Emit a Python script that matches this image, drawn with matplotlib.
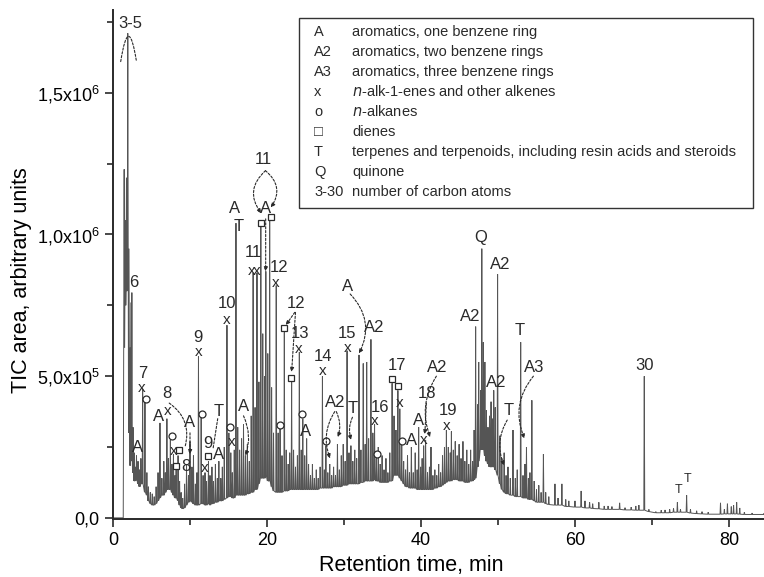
import numpy as np
import matplotlib
matplotlib.use('Agg')
import matplotlib.pyplot as plt
from matplotlib.patches import Rectangle

plt.rcParams['font.family'] = ['Liberation Sans', 'DejaVu Sans']
plt.rcParams['mathtext.fontset'] = 'custom'
plt.rcParams['mathtext.rm'] = 'Liberation Sans'

# chromatogram spikes: (time min, apex, local base), signal in 1e5 units
peaks_0_5 = [(1.45, 12.3, 6.0), (1.60, 10.5, 7.5), (1.75, 12.0, 8.0), (1.92, 17.1, 9.0),
             (2.08, 9.5, 3.0), (2.22, 6.0, 1.85), (2.32, 7.6, 2.0), (2.45, 7.95, 2.0),
             (2.6, 3.2, 1.6), (2.75, 2.3, 1.3), (2.9, 1.8, 1.3), (3.05, 2.2, 1.4),
             (3.25, 2.0, 1.2), (3.45, 1.7, 1.1), (3.62, 2.1, 1.2), (3.85, 4.55, 1.2),
             (4.15, 4.1, 0.9), (4.4, 1.6, 0.8), (4.6, 1.1, 0.6), (4.85, 0.9, 0.5),
             (5.1, 0.85, 0.45), (5.35, 0.75, 0.45)]
peaks_5_12 = [(5.6, 1.1, 0.5), (5.85, 1.6, 0.6), (6.1, 3.35, 0.7), (6.35, 1.4, 0.8),
              (6.6, 2.0, 0.8), (6.8, 1.6, 0.9), (7.0, 3.5, 1.0), (7.2, 2.1, 1.0),
              (7.45, 2.75, 1.0), (7.65, 1.9, 0.9), (7.85, 2.25, 0.8), (8.05, 1.5, 0.7),
              (8.2, 1.9, 0.7), (8.45, 2.2, 0.6), (8.65, 1.3, 0.45), (8.85, 0.9, 0.35),
              (9.05, 0.7, 0.32), (9.3, 1.2, 0.35), (9.55, 1.85, 0.45), (9.8, 1.5, 0.55),
              (10.0, 2.7, 0.6), (10.25, 1.8, 0.55), (10.45, 2.2, 0.5), (10.7, 1.2, 0.45),
              (10.9, 1.6, 0.45), (11.1, 5.7, 0.45), (11.45, 3.55, 0.5), (11.7, 1.5, 0.5),
              (11.95, 1.6, 0.45)]
peaks_12_17 = [(12.15, 1.3, 0.45), (12.4, 2.0, 0.5), (12.6, 1.5, 0.45), (12.85, 1.8, 0.5),
               (13.05, 1.3, 0.5), (13.3, 1.9, 0.55), (13.55, 1.4, 0.55), (13.75, 2.0, 0.6),
               (14.0, 1.4, 0.6), (14.2, 1.8, 0.6), (14.45, 2.5, 0.65), (14.8, 6.8, 0.7),
               (15.05, 3.0, 0.75), (15.3, 2.3, 0.75), (15.5, 1.6, 0.7), (15.75, 2.4, 0.7),
               (15.97, 10.4, 0.8), (16.2, 3.2, 0.8), (16.45, 2.4, 0.8), (16.7, 2.8, 0.8),
               (16.95, 3.3, 0.8), (17.2, 2.2, 0.8)]
peaks_17_25 = [(17.45, 2.6, 0.85), (17.7, 2.0, 0.85), (17.95, 3.6, 0.9), (18.2, 8.65, 0.9),
               (18.45, 3.9, 1.0), (18.7, 8.65, 1.0), (18.95, 4.8, 1.2), (19.2, 10.3, 1.4),
               (19.45, 6.5, 1.4), (19.7, 5.0, 1.4), (19.85, 8.7, 1.5), (20.1, 5.8, 1.3),
               (20.35, 10.6, 1.3), (20.6, 4.6, 1.1), (20.85, 3.0, 0.95), (21.2, 8.2, 0.9),
               (21.45, 3.0, 0.9), (21.7, 3.15, 0.9), (21.95, 2.2, 0.9), (22.25, 6.55, 0.95),
               (22.5, 2.4, 0.95), (22.75, 1.9, 0.95), (22.95, 2.3, 1.0), (23.2, 4.8, 1.0),
               (23.45, 2.4, 1.0), (23.7, 1.8, 1.0), (23.95, 2.2, 1.0), (24.2, 5.85, 1.0),
               (24.45, 2.4, 1.0), (24.65, 3.5, 1.0), (24.9, 2.2, 1.0), (25.15, 2.8, 1.0)]
peaks_25_36 = [(25.4, 1.9, 1.0), (25.65, 1.5, 1.0), (25.9, 1.9, 1.0), (26.15, 1.4, 1.0),
               (26.4, 1.7, 1.0), (26.65, 1.4, 1.0), (26.9, 1.8, 1.05), (27.2, 5.0, 1.05),
               (27.45, 1.7, 1.05), (27.65, 2.55, 1.05), (27.9, 1.6, 1.05), (28.15, 1.9, 1.05),
               (28.4, 1.5, 1.05), (28.65, 1.8, 1.1), (28.9, 1.5, 1.1), (29.15, 2.6, 1.1),
               (29.4, 1.7, 1.1), (29.65, 2.2, 1.1), (29.9, 2.6, 1.15), (30.15, 2.0, 1.15),
               (30.4, 5.9, 1.15), (30.65, 2.3, 1.2), (30.9, 2.55, 1.2), (31.15, 2.0, 1.2),
               (31.4, 2.4, 1.2), (31.65, 2.1, 1.2), (31.95, 5.75, 1.2), (32.2, 2.4, 1.25),
               (32.5, 5.45, 1.25), (32.75, 2.6, 1.3), (32.95, 5.5, 1.3), (33.2, 2.8, 1.3),
               (33.5, 6.3, 1.3), (33.75, 3.0, 1.3), (33.97, 3.3, 1.35), (34.2, 2.1, 1.3),
               (34.45, 2.5, 1.3), (34.7, 1.9, 1.25), (34.95, 2.2, 1.25), (35.2, 1.7, 1.25),
               (35.45, 2.1, 1.25), (35.7, 1.6, 1.25), (35.95, 2.3, 1.3)]
peaks_36_47 = [(36.25, 4.75, 1.3), (36.5, 3.6, 1.5), (36.75, 3.1, 1.5), (37.0, 4.5, 1.5),
               (37.25, 3.85, 1.4), (37.5, 2.6, 1.3), (37.75, 2.0, 1.2), (38.0, 1.7, 1.1),
               (38.25, 2.2, 1.1), (38.5, 1.6, 1.05), (38.75, 2.5, 1.05), (39.0, 1.6, 1.05),
               (39.25, 2.3, 1.05), (39.5, 1.7, 1.0), (39.7, 3.2, 1.0), (39.95, 1.8, 1.0),
               (40.15, 2.1, 1.0), (40.35, 2.55, 1.0), (40.6, 2.75, 1.0), (40.85, 1.6, 1.0),
               (41.1, 1.8, 1.0), (41.3, 2.5, 1.0), (41.55, 1.5, 1.0), (41.8, 1.7, 1.05),
               (42.05, 1.5, 1.05), (42.3, 1.9, 1.1), (42.55, 1.6, 1.1), (42.8, 2.2, 1.15),
               (43.05, 2.5, 1.2), (43.3, 3.1, 1.25), (43.55, 2.5, 1.3), (43.8, 2.3, 1.3),
               (43.95, 3.05, 1.3), (44.2, 2.4, 1.35), (44.45, 2.7, 1.35), (44.7, 2.2, 1.35),
               (44.95, 2.6, 1.3), (45.2, 2.1, 1.3), (45.45, 2.7, 1.3), (45.7, 2.0, 1.25),
               (45.95, 2.4, 1.25), (46.2, 1.9, 1.25), (46.45, 2.4, 1.3), (46.7, 2.0, 1.3),
               (46.9, 3.1, 1.35)]
peaks_47_57 = [(47.1, 6.75, 1.4), (47.35, 4.0, 1.8), (47.5, 5.5, 2.0), (47.75, 4.5, 2.4),
               (47.9, 9.5, 2.6), (48.1, 6.2, 2.4), (48.3, 5.5, 2.2), (48.5, 3.8, 2.0),
               (48.7, 3.2, 1.9), (48.9, 3.6, 1.8), (49.1, 4.1, 1.8), (49.3, 3.5, 1.8),
               (49.45, 4.5, 1.8), (49.65, 3.9, 1.7), (49.95, 8.6, 1.5), (50.25, 2.9, 1.2),
               (50.5, 2.1, 1.0), (50.8, 2.3, 0.9), (51.05, 1.5, 0.85), (51.3, 1.8, 0.85),
               (51.6, 1.4, 0.8), (51.95, 3.1, 0.8), (52.25, 1.4, 0.75), (52.5, 1.7, 0.75),
               (52.95, 6.2, 0.75), (53.25, 1.5, 0.7), (53.5, 1.9, 0.7), (53.7, 2.5, 0.7),
               (53.95, 1.4, 0.65), (54.15, 1.6, 0.65), (54.4, 4.15, 0.65), (54.7, 1.3, 0.6),
               (55.0, 1.0, 0.55), (55.3, 1.15, 0.55), (55.6, 0.9, 0.55), (55.9, 2.25, 0.55),
               (56.2, 0.9, 0.5), (56.6, 0.75, 0.47)]
peaks_57_85 = [(57.4, 1.2, 0.45), (57.8, 0.7, 0.45), (58.3, 1.2, 0.45), (58.8, 0.65, 0.4),
               (59.2, 0.6, 0.4), (60.0, 0.6, 0.38), (60.8, 0.95, 0.38), (61.3, 0.6, 0.35),
               (61.9, 0.55, 0.35), (62.3, 0.5, 0.33), (63.1, 0.55, 0.32), (63.8, 0.42, 0.3),
               (64.3, 0.42, 0.3), (64.8, 0.4, 0.3), (65.8, 0.53, 0.3), (66.5, 0.36, 0.28),
               (67.3, 0.38, 0.28), (67.9, 0.42, 0.27), (68.3, 0.45, 0.27), (69.0, 5.0, 0.27),
               (69.6, 0.3, 0.22), (70.5, 0.22, 0.18), (71.2, 0.27, 0.18), (71.7, 0.28, 0.18),
               (72.3, 0.3, 0.18), (72.8, 0.33, 0.2), (73.3, 0.55, 0.2), (73.7, 0.3, 0.2),
               (74.5, 0.8, 0.2), (75.0, 0.3, 0.17), (75.8, 0.25, 0.15), (76.5, 0.22, 0.14),
               (77.3, 0.2, 0.13), (78.9, 0.53, 0.13), (79.4, 0.3, 0.14), (79.8, 0.5, 0.14),
               (80.3, 0.4, 0.14), (80.6, 0.45, 0.14), (81.0, 0.55, 0.14), (81.4, 0.35, 0.13),
               (82.0, 0.2, 0.12), (83.0, 0.17, 0.12), (84.5, 0.15, 0.12)]
solvent_delay = 1.33

# peak labels (text, time, signal)
labels = [('3-5', 2.2, 17.45), ('6', 2.75, 8.3), ('7', 3.83, 5.1), ('A', 3.25, 2.5),
          ('A', 5.88, 3.56), ('8', 7.0, 4.4), ('8', 9.48, 1.83), ('A', 10.0, 3.35),
          ('9', 11.04, 6.35), ('T', 13.73, 3.75), ('9', 12.27, 2.64), ('A', 13.73, 2.24),
          ('10', 14.77, 7.55), ('A', 15.84, 10.9), ('T', 16.34, 10.28), ('A', 16.92, 3.94),
          ('11', 19.52, 12.64), ('A', 19.83, 10.9), ('11', 18.22, 9.35), ('12', 21.55, 8.85),
          ('12', 23.83, 7.57), ('13', 24.35, 6.5), ('A', 25.06, 3.06), ('14', 27.27, 5.7),
          ('A2', 28.87, 4.07), ('A', 30.45, 8.18), ('15', 30.39, 6.5), ('T', 31.17, 3.87),
          ('A2', 33.96, 6.71), ('16', 34.68, 3.88), ('17', 36.95, 5.36), ('A', 38.79, 2.72),
          ('A', 39.65, 3.43), ('18', 40.74, 4.4), ('A2', 42.14, 5.31), ('19', 43.5, 3.8),
          ('A2', 46.36, 7.09), ('Q', 47.75, 9.88), ('A2', 50.32, 8.94), ('A2', 49.74, 4.78),
          ('T', 51.34, 3.78), ('T', 52.86, 6.62), ('A3', 54.74, 5.31), ('30', 69.09, 5.36)]
small_T = [(73.42, 1.0), (74.64, 1.37)]
crosses = [(3.77, 4.58), (7.14, 3.77), (7.83, 2.36), (11.1, 5.85), (11.95, 1.76),
           (14.71, 6.98), (15.42, 2.68), (18.01, 8.7), (18.66, 8.7), (21.17, 8.3),
           (24.16, 5.97), (27.25, 5.17), (30.43, 6.01), (33.97, 3.43), (37.27, 4.05),
           (40.39, 2.76), (43.34, 3.25)]
circles = [(4.35, 4.19), (7.62, 2.89), (11.52, 3.66), (15.19, 3.19), (21.69, 3.27),
           (24.61, 3.66), (27.62, 2.72), (34.31, 2.25), (37.53, 2.72)]
squares = [(8.57, 2.39), (8.18, 1.83), (12.38, 2.2), (19.18, 10.4), (20.58, 10.6),
           (22.25, 6.69), (23.16, 4.92), (36.26, 4.91), (37.05, 4.64)]
# dashed pointers: start, end, curvature, arrowhead
pointers = [(7.3, 4.05, 9.35, 2.5, -0.35, False), (10.0, 3.0, 10.0, 2.25, 0.0, True),
            (13.6, 3.5, 13.0, 2.45, 0.0, False), (16.95, 3.6, 17.2, 2.2, -0.2, True),
            (19.8, 12.25, 19.25, 10.75, 0.45, True), (19.8, 12.25, 20.5, 10.95, -0.45, True),
            (19.83, 10.55, 19.83, 8.7, 0.0, True), (23.6, 7.25, 22.45, 6.8, 0.0, True),
            (23.7, 7.25, 23.2, 5.15, 0.0, True), (28.8, 3.75, 28.2, 2.1, 0.25, True),
            (29.0, 3.75, 29.2, 2.85, -0.2, True), (30.8, 7.9, 31.95, 5.8, -0.35, True),
            (31.1, 3.55, 30.95, 2.75, 0.2, True), (40.7, 4.05, 40.5, 2.95, 0.0, True),
            (42.0, 5.0, 41.2, 2.85, 0.25, True), (51.2, 3.45, 50.8, 1.85, 0.25, True),
            (54.6, 5.0, 53.45, 2.8, 0.3, True)]

legend_keys = ['A', 'A2', 'A3', 'x', 'o', '\u25a1', 'T', 'Q', '3-30']
legend_text = ['aromatics, one benzene ring', 'aromatics, two benzene rings',
               'aromatics, three benzene rings', '$n$-alk-1-enes and other alkenes',
               '$n$-alkanes', 'dienes',
               'terpenes and terpenoids, including resin acids and steroids',
               'quinone', 'number of carbon atoms']

fig = plt.figure(figsize=(7.64, 5.77), dpi=100)
ax = fig.add_axes([113 / 764, 58 / 577, 651 / 764, 509 / 577])

peaks = (peaks_0_5 + peaks_5_12 + peaks_12_17 + peaks_17_25 + peaks_25_36
         + peaks_36_47 + peaks_47_57 + peaks_57_85)
w = 0.06
tt, vv = [0.0, solvent_delay], [0.0, 0.0]
for t, top, base in peaks:
    tt += [t - w, t, t + w]
    vv += [base, top, base]
ax.plot(tt, vv, color='#555555', lw=0.7, solid_joinstyle='miter')

ink = '#2a2a2a'
for s, t, v in labels:
    ax.text(t, v, s, fontsize=12, ha='center', va='center', color=ink)
for t, v in small_T:
    ax.text(t, v, 'T', fontsize=9, ha='center', va='center', color=ink)
for t, v in crosses:
    ax.text(t, v, 'x', fontsize=11, ha='center', va='center', color=ink)
ax.plot([c[0] for c in circles], [c[1] for c in circles], 'o', ms=5, mfc='white',
        mec=ink, mew=0.9)
ax.plot([c[0] for c in squares], [c[1] for c in squares], 's', ms=5, mfc='white',
        mec=ink, mew=0.9)
for t0, v0, t1, v1, rad, head in pointers:
    ax.annotate('', xy=(t1, v1), xytext=(t0, v0),
                arrowprops=dict(arrowstyle='-|>' if head else '-', lw=0.8, color=ink,
                                linestyle=(0, (2, 1.5)), mutation_scale=6,
                                shrinkA=0, shrinkB=0,
                                connectionstyle=f'arc3,rad={rad}'))
# dashed cap over the off-scale first peak
ax.annotate('', xy=(3.05, 16.1), xytext=(1.0, 16.1),
            arrowprops=dict(arrowstyle='-', lw=0.8, color=ink, linestyle=(0, (2, 1.5)),
                            shrinkA=0, shrinkB=0, connectionstyle='arc3,rad=-3.2'))

ax.set_xlim(0, 84.55)
ax.set_ylim(-0.04, 17.92)
ax.set_xticks([0, 20, 40, 60, 80])
ax.set_xticks([10, 30, 50, 70], minor=True)
ax.set_yticks([0, 5, 10, 15])
ax.set_yticklabels(['0,0', '5,0x10$^5$', '1,0x10$^6$', '1,5x10$^6$'])
ax.set_yticks([2.5, 7.5, 12.5, 17.5], minor=True)
ax.tick_params(which='both', direction='out', labelsize=13, color=ink, width=1.2)
ax.tick_params(which='major', length=6)
ax.tick_params(which='minor', length=4)
for side in ['top', 'right']:
    ax.spines[side].set_visible(False)
for side in ['left', 'bottom']:
    ax.spines[side].set_linewidth(1.4)
    ax.spines[side].set_color(ink)
ax.set_xlabel('Retention time, min', fontsize=15.5)
ax.xaxis.set_label_coords(0.458, -0.07)
ax.set_ylabel('TIC area, arbitrary units', fontsize=15.5)
ax.yaxis.set_label_coords(-0.124, 0.47)

# key box
fig.patches.append(Rectangle((299 / 764, 1 - 208 / 577), 454 / 764, 190 / 577,
                             transform=fig.transFigure, fill=False, lw=1.0, ec='#333333'))
for i, (k, d) in enumerate(zip(legend_keys, legend_text)):
    y = 1 - (32 + 20 * i) / 577
    fig.text(314 / 764, y, k, fontsize=10.5, va='center', color=ink)
    fig.text(352 / 764, y, d, fontsize=10.5, va='center', color=ink)

fig.savefig('out.png', dpi=100)
